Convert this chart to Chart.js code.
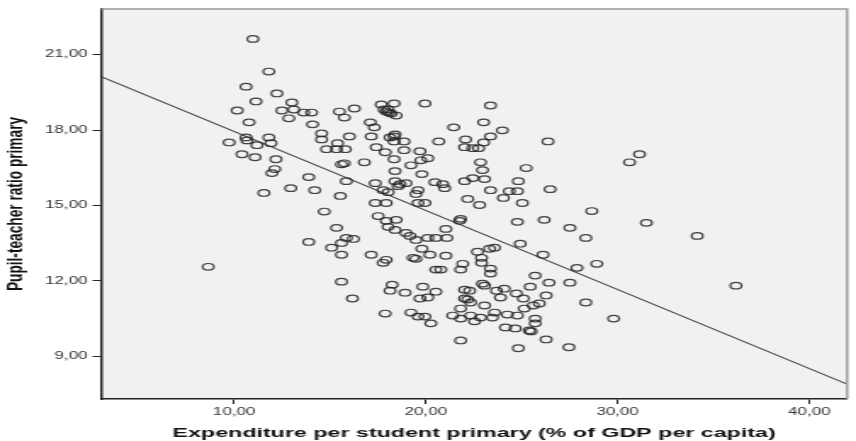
<!DOCTYPE html>
<html>
<head>
<meta charset="utf-8">
<script src="https://cdn.jsdelivr.net/npm/chart.js"></script>
<style>
  html, body { margin: 0; padding: 0; background: #fff; overflow: hidden; }
  /* the source picture is an SPSS plot stretched sideways: draw narrow, then widen */
  #scatter { transform: scaleX(1.6984); transform-origin: 0 0; }
</style>
</head>
<body>
<canvas id="scatter" width="504" height="441"></canvas>
<script>
// Expenditure per student primary (% of GDP per capita)
const expenditure = [
  10.98, 11.81, 10.62, 12.23, 11.14, 10.16, 13.01, 12.49, 13.11, 12.85,
  13.63, 14.04, 10.78, 10.62, 10.67, 11.81, 11.92, 9.74, 11.19, 10.41,
  11.09, 12.18, 12.12, 11.97, 12.95, 11.55, 8.65, 13.89, 14.70, 15.08,
  14.09, 14.56, 14.56, 15.39, 16.01, 14.82, 15.34, 15.80, 15.49, 15.75,
  16.27, 17.67, 18.34, 17.93, 18.08, 18.19, 18.45, 19.95, 23.37, 17.10,
  17.31, 17.15, 18.13, 18.39, 18.34, 18.86, 17.41, 17.88, 18.86, 19.69,
  20.67, 21.45, 23.01, 23.99, 23.37, 22.07, 23.01, 22.02, 22.44, 22.75,
  26.37, 15.60, 15.75, 16.79, 18.34, 19.22, 19.74, 20.10, 19.79, 18.39,
  22.85, 22.95, 25.23, 13.89, 14.20, 15.85, 15.54, 17.36, 18.39, 18.65,
  18.55, 18.96, 17.77, 18.03, 19.59, 19.48, 20.47, 20.88, 20.98, 22.02,
  22.44, 23.06, 24.82, 23.37, 24.35, 24.77, 24.04, 25.03, 26.48, 22.18,
  22.80, 17.36, 17.93, 19.59, 19.95, 17.51, 17.93, 18.45, 21.81, 24.77,
  26.17, 18.03, 18.39, 18.96, 19.17, 19.48, 20.10, 20.52, 21.09, 21.04,
  21.76, 15.34, 15.85, 16.22, 15.60, 15.60, 17.15, 17.77, 17.93, 19.48,
  19.79, 20.21, 21.04, 20.52, 20.78, 21.81, 21.92, 15.60, 16.17, 18.24,
  18.13, 18.91, 19.84, 20.52, 19.69, 20.10, 22.02, 22.02, 17.88, 19.22,
  19.59, 19.95, 20.26, 21.40, 21.81, 21.81, 21.81, 22.69, 22.90, 22.90,
  23.32, 23.58, 23.37, 23.37, 24.92, 26.11, 27.51, 27.88, 25.70, 26.42,
  27.51, 25.44, 26.27, 22.28, 22.18, 22.33, 22.95, 23.06, 23.06, 22.33,
  22.85, 22.54, 23.58, 23.47, 23.68, 24.09, 23.89, 24.72, 25.08, 24.25,
  24.77, 25.13, 25.60, 25.91, 25.70, 25.70, 25.39, 25.49, 24.66, 24.15,
  24.82, 26.27, 27.46, 28.34, 28.65, 28.91, 28.34, 31.50, 34.15, 36.17,
  29.79, 31.14, 30.62, 17.82, 18.03, 19.33, 18.34
];

// Pupil-teacher ratio primary
const pupilRatio = [
  21.63, 20.33, 19.73, 19.46, 19.14, 18.78, 19.10, 18.78, 18.82, 18.47,
  18.70, 18.70, 18.31, 17.71, 17.59, 17.71, 17.48, 17.51, 17.40, 17.04,
  16.92, 16.84, 16.45, 16.29, 15.69, 15.50, 12.56, 13.55, 14.76, 13.32,
  18.23, 17.87, 17.63, 17.48, 17.75, 17.24, 17.24, 17.24, 18.74, 18.50,
  18.86, 19.02, 19.06, 18.74, 18.70, 18.66, 18.58, 19.06, 18.98, 18.31,
  18.11, 17.75, 17.71, 17.83, 17.55, 17.55, 17.32, 17.12, 17.20, 17.16,
  17.55, 18.11, 18.31, 17.99, 17.75, 17.63, 17.51, 17.32, 17.28, 17.28,
  17.55, 16.64, 16.68, 16.72, 16.84, 16.60, 16.80, 16.88, 16.25, 16.37,
  16.72, 16.41, 16.49, 16.13, 15.61, 15.97, 15.38, 15.89, 15.97, 15.85,
  15.77, 15.89, 15.61, 15.53, 15.61, 15.46, 15.93, 15.85, 15.69, 15.97,
  16.09, 16.05, 15.97, 15.61, 15.57, 15.57, 15.30, 15.10, 15.65, 15.26,
  15.02, 15.10, 15.10, 15.10, 15.10, 14.58, 14.39, 14.43, 14.47, 14.35,
  14.43, 14.15, 14.03, 13.91, 13.79, 13.63, 13.71, 13.71, 13.71, 14.07,
  14.39, 14.11, 13.71, 13.67, 13.51, 13.04, 13.04, 12.72, 12.84, 12.88,
  13.28, 13.04, 13.00, 12.45, 12.45, 12.45, 12.68, 11.97, 11.30, 11.85,
  11.61, 11.53, 11.77, 11.57, 11.30, 11.34, 11.65, 11.30, 10.70, 10.74,
  10.58, 10.58, 10.31, 10.62, 10.90, 10.50, 9.63, 13.16, 12.92, 12.72,
  13.28, 13.32, 12.49, 12.29, 13.48, 13.04, 14.11, 12.52, 12.21, 11.93,
  11.93, 11.77, 11.42, 11.61, 11.26, 11.14, 11.89, 11.81, 11.02, 10.62,
  10.54, 10.39, 10.74, 10.54, 11.61, 11.69, 11.34, 11.50, 11.30, 10.66,
  10.62, 10.90, 11.02, 11.10, 10.50, 10.31, 10.03, 9.99, 10.11, 10.15,
  9.32, 9.67, 9.36, 13.71, 14.78, 12.68, 11.14, 14.31, 13.79, 11.81,
  10.50, 17.04, 16.72, 18.82, 18.82, 12.92, 17.75
];

// fit line, read at the two edges of the plot
const fitX = [3.06, 41.97];
const fitY = [20.13, 7.89];

const xRange = [3.06, 41.97];
const yRange = [7.30, 22.82];
const xTicks = [10, 20, 30, 40];
const yTicks = [9, 12, 15, 18, 21];

const xTitle = "Expenditure per student primary (% of GDP per capita)";
const yTitle = "Pupil-teacher ratio primary";

const points = expenditure.map((x, i) => ({ x: x, y: pupilRatio[i] }));
const fitLine = fitX.map((x, i) => ({ x: x, y: fitY[i] }));

const fontFamily = "'Liberation Sans', Arial, sans-serif";
const commaLabel = v => Number(v).toFixed(2).replace(".", ",");

// grey plot area plus the thin grey top/right frame
const plotFrame = {
    id: "plotFrame",
    beforeDraw(chart) {
        const { ctx, chartArea: a } = chart;
        ctx.save();
        ctx.fillStyle = "#f0f1f1";
        ctx.fillRect(a.left, a.top, a.right - a.left, a.bottom - a.top);
        ctx.restore();
    },
    afterDraw(chart) {
        const { ctx, chartArea: a } = chart;
        ctx.save();
        ctx.strokeStyle = "#999";
        ctx.lineWidth = 1.4;
        ctx.beginPath();
        ctx.moveTo(a.left, a.top);
        ctx.lineTo(a.right, a.top);
        ctx.lineTo(a.right, a.bottom);
        ctx.stroke();
        ctx.restore();
    }
};

new Chart(document.getElementById("scatter"), {
    type: "scatter",
    data: {
        datasets: [
            {
                label: "Countries",
                data: points,
                pointStyle: "circle",
                pointRadius: 3.3,
                borderWidth: 1.2,
                borderColor: "rgba(35,35,35,0.85)",
                backgroundColor: "rgba(0,0,0,0)"
            },
            {
                label: "Linear fit",
                data: fitLine,
                showLine: true,
                pointRadius: 0,
                borderWidth: 1.1,
                borderColor: "#3a3a3a",
                fill: false
            }
        ]
    },
    plugins: [plotFrame],
    options: {
        responsive: false,
        animation: false,
        events: [],
        layout: { padding: { top: 7, right: 2, bottom: 0, left: 0 } },
        plugins: {
            legend: { display: false },
            tooltip: { enabled: false }
        },
        scales: {
            x: {
                type: "linear",
                min: xRange[0],
                max: xRange[1],
                afterBuildTicks: axis => { axis.ticks = xTicks.map(v => ({ value: v })); },
                afterFit: axis => { axis.height = 42; },
                ticks: {
                    callback: commaLabel,
                    font: { family: fontFamily, size: 10 },
                    color: "#333",
                    padding: 2,
                    maxRotation: 0,
                    autoSkip: false
                },
                grid: {
                    drawOnChartArea: false,
                    drawTicks: true,
                    tickLength: 5,
                    color: "#222",
                    lineWidth: 1
                },
                border: { display: true, color: "#222", width: 1.5 },
                title: {
                    display: true,
                    text: xTitle,
                    color: "#111",
                    font: { family: fontFamily, size: 13.7, weight: "bold" },
                    padding: { top: 0, bottom: 0 }
                }
            },
            y: {
                type: "linear",
                min: yRange[0],
                max: yRange[1],
                afterBuildTicks: axis => { axis.ticks = yTicks.map(v => ({ value: v })); },
                afterFit: axis => { axis.width = 59.5; },
                ticks: {
                    callback: commaLabel,
                    font: { family: fontFamily, size: 10 },
                    color: "#333",
                    padding: 3,
                    autoSkip: false
                },
                grid: {
                    drawOnChartArea: false,
                    drawTicks: true,
                    tickLength: 5,
                    color: "#222",
                    lineWidth: 1
                },
                border: { display: true, color: "#222", width: 1.5 },
                title: {
                    display: true,
                    text: yTitle,
                    color: "#111",
                    font: { family: fontFamily, size: 13.7, weight: "bold" },
                    padding: { top: 1, bottom: 0 }
                }
            }
        }
    }
});
</script>
</body>
</html>
